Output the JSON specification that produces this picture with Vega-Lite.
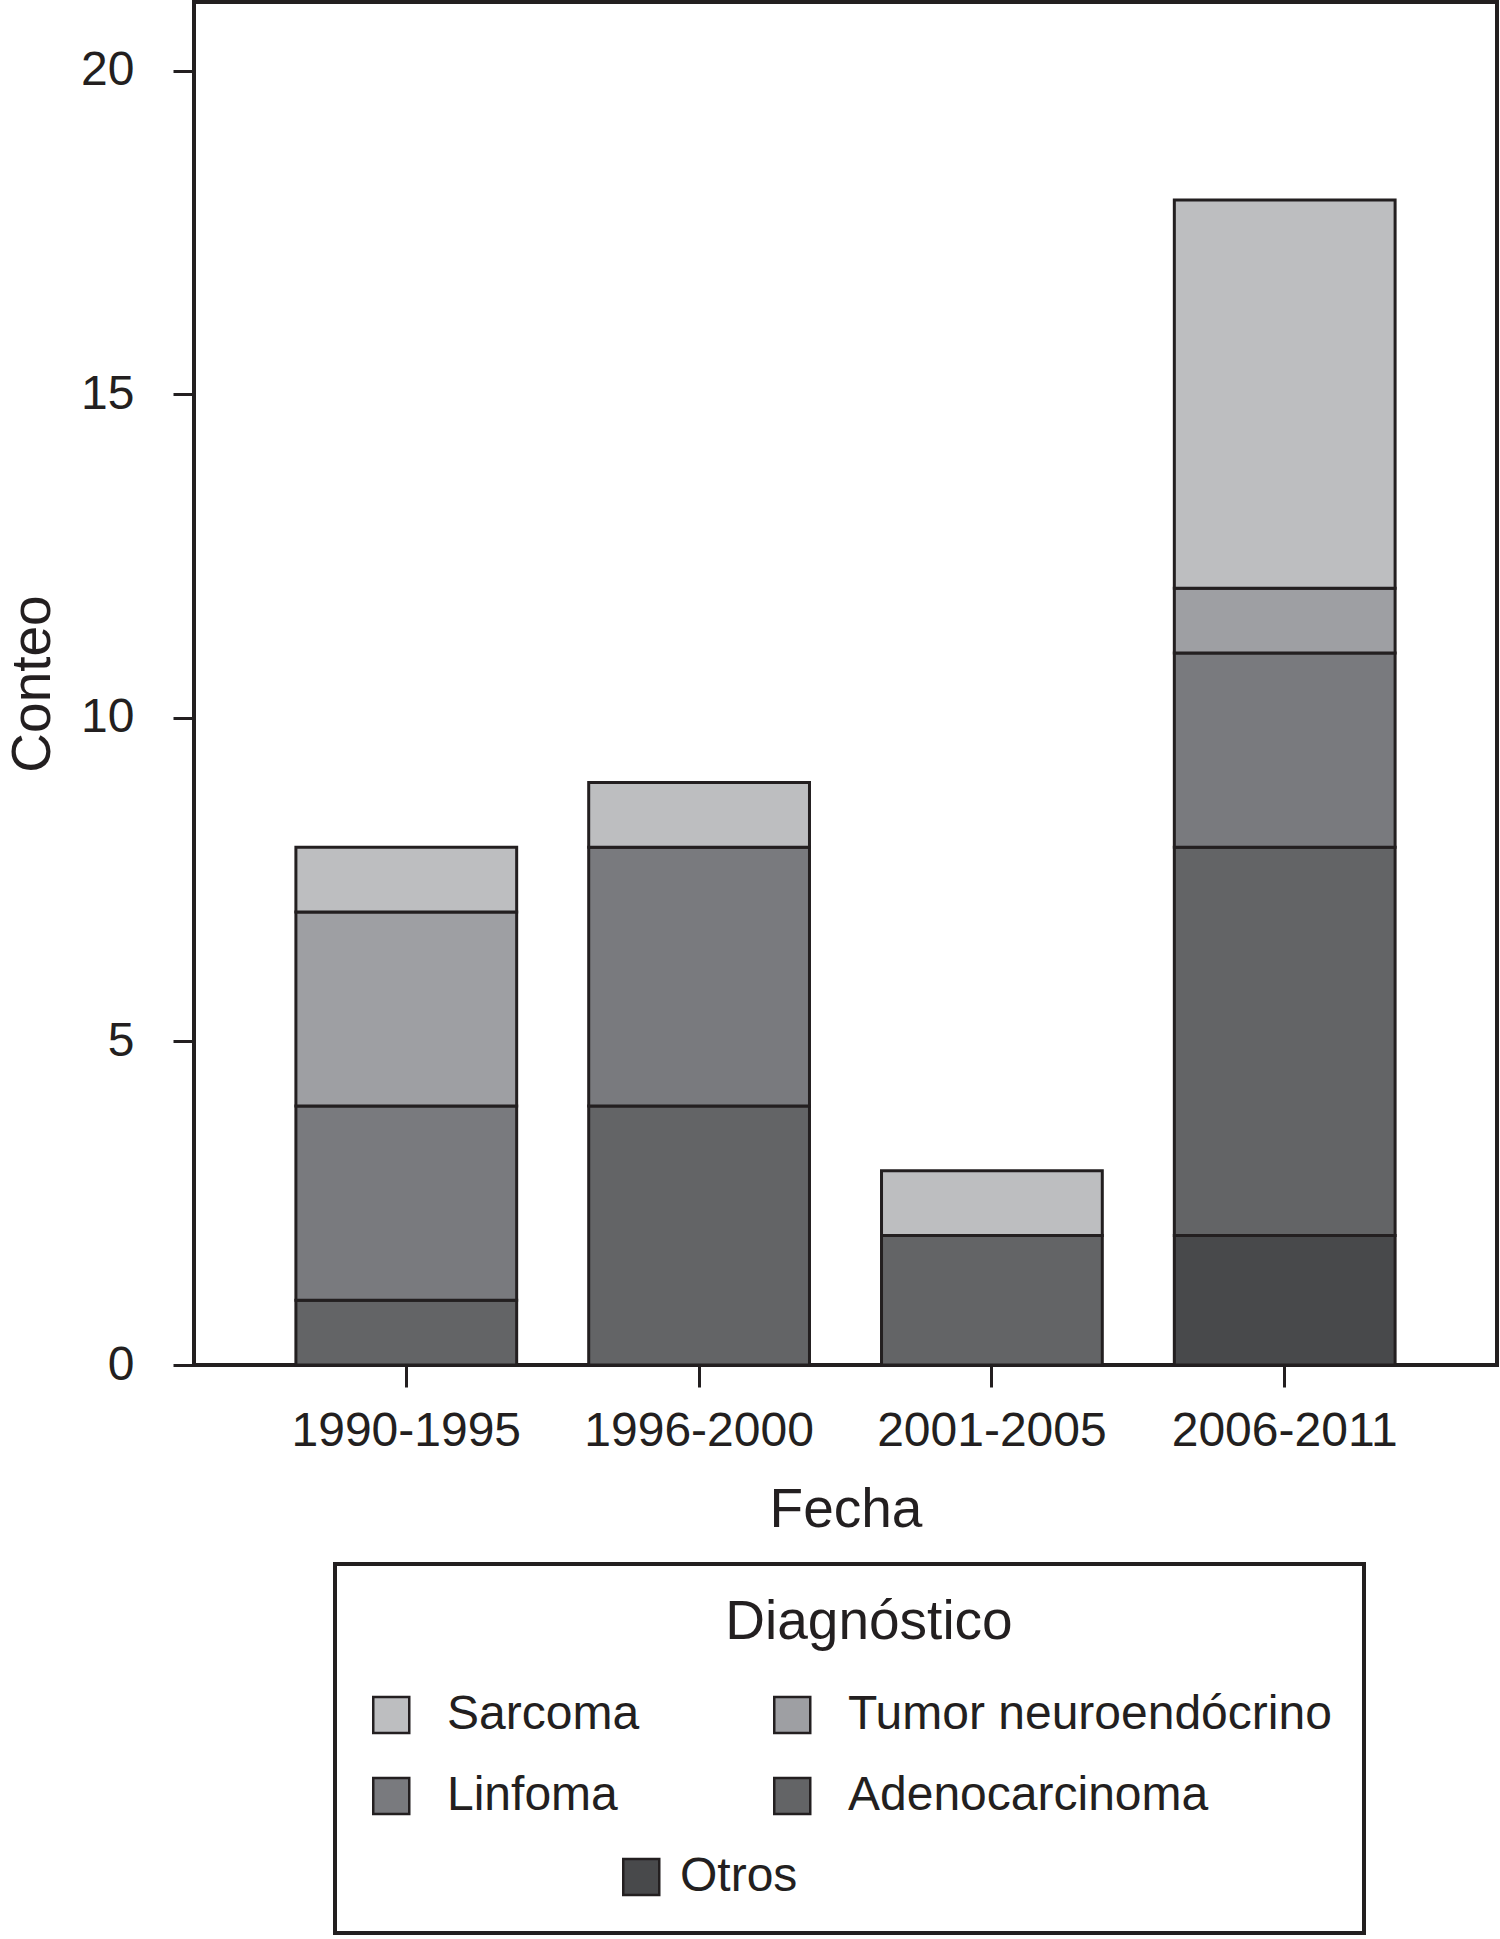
{
  "$schema": "https://vega.github.io/schema/vega-lite/v6.json",
  "autosize": "none",
  "padding": {"left": 194, "top": 2, "right": 3, "bottom": 574},
  "width": 1303,
  "height": 1363,
  "background": "white",
  "config": {
    "font": "Liberation Sans",
    "view": {"stroke": "#231f20", "strokeWidth": 4},
    "axis": {"labelColor": "#231f20", "titleColor": "#231f20", "tickColor": "#231f20", "domain": false, "grid": false, "titleFontWeight": "normal", "labelLimit": 500},
    "legend": {"strokeWidth": 4}
  },
  "data": {
    "values": [
      {"fecha": "1990-1995", "diag": "Adenocarcinoma", "ord": 2, "n": 1},
      {"fecha": "1990-1995", "diag": "Linfoma", "ord": 3, "n": 3},
      {"fecha": "1990-1995", "diag": "Tumor neuroendócrino", "ord": 4, "n": 3},
      {"fecha": "1990-1995", "diag": "Sarcoma", "ord": 5, "n": 1},
      {"fecha": "1996-2000", "diag": "Adenocarcinoma", "ord": 2, "n": 4},
      {"fecha": "1996-2000", "diag": "Linfoma", "ord": 3, "n": 4},
      {"fecha": "1996-2000", "diag": "Sarcoma", "ord": 5, "n": 1},
      {"fecha": "2001-2005", "diag": "Adenocarcinoma", "ord": 2, "n": 2},
      {"fecha": "2001-2005", "diag": "Sarcoma", "ord": 5, "n": 1},
      {"fecha": "2006-2011", "diag": "Otros", "ord": 1, "n": 2},
      {"fecha": "2006-2011", "diag": "Adenocarcinoma", "ord": 2, "n": 6},
      {"fecha": "2006-2011", "diag": "Linfoma", "ord": 3, "n": 3},
      {"fecha": "2006-2011", "diag": "Tumor neuroendócrino", "ord": 4, "n": 1},
      {"fecha": "2006-2011", "diag": "Sarcoma", "ord": 5, "n": 6}
    ]
  },
  "mark": {"type": "bar", "stroke": "#231f20", "strokeWidth": 3},
  "encoding": {
    "x": {
      "field": "fecha", "type": "nominal", "title": "Fecha",
      "scale": {"paddingInner": 0.246, "paddingOuter": 0.348},
      "axis": {"labelAngle": 0, "labelFontSize": 48, "labelPadding": 20, "labelLimit": 500, "tickSize": 22, "tickWidth": 3, "titleFontSize": 55, "titlePadding": 28}
    },
    "y": {
      "field": "n", "type": "quantitative", "title": "Conteo", "stack": "zero",
      "scale": {"domain": [0, 21.06], "nice": false},
      "axis": {"values": [0, 5, 10, 15, 20], "labelFontSize": 48, "labelPadding": 39, "tickSize": 21, "tickWidth": 3, "titleFontSize": 55, "titlePadding": 19}
    },
    "order": {"field": "ord", "type": "quantitative"},
    "color": {
      "field": "diag", "type": "nominal", "title": "Diagnóstico",
      "scale": {
        "domain": ["Sarcoma", "Tumor neuroendócrino", "Linfoma", "Adenocarcinoma", "Otros"],
        "range": ["#bdbec0", "#9e9fa3", "#797a7e", "#636466", "#48494b"]
      },
      "legend": {
        "orient": "none", "legendX": 141, "legendY": 1562,
        "direction": "horizontal", "columns": 2,
        "padding": 32, "strokeColor": "#231f20",
        "title": "Diagnóstico", "titleFontSize": 55, "titleFontWeight": "normal", "titleColor": "#231f20",
        "titleAnchor": "middle", "titlePadding": 40, "titleLimit": 1000,
        "labelFontSize": 48, "labelColor": "#231f20", "labelOffset": 32, "labelLimit": 800,
        "symbolType": "square", "symbolSize": 1296, "symbolStrokeColor": "#231f20", "symbolStrokeWidth": 2.5, "symbolOpacity": 1,
        "rowPadding": 33, "columnPadding": -62,
        "encode": {
          "symbols": {"update": {"x": [
            {"test": "datum.value === 'Otros'", "value": 274.25},
            {"test": "datum.value === 'Tumor neuroendócrino' || datum.value === 'Adenocarcinoma'", "value": -5.75},
            {"value": 24.25}
          ]}},
          "labels": {"update": {"dx": [
            {"test": "datum.value === 'Otros'", "value": 233},
            {"test": "datum.value === 'Tumor neuroendócrino' || datum.value === 'Adenocarcinoma'", "value": -30},
            {"value": 0}
          ]}},
          "title": {"update": {"dx": {"value": 20}}}
        }
      }
    }
  }
}
